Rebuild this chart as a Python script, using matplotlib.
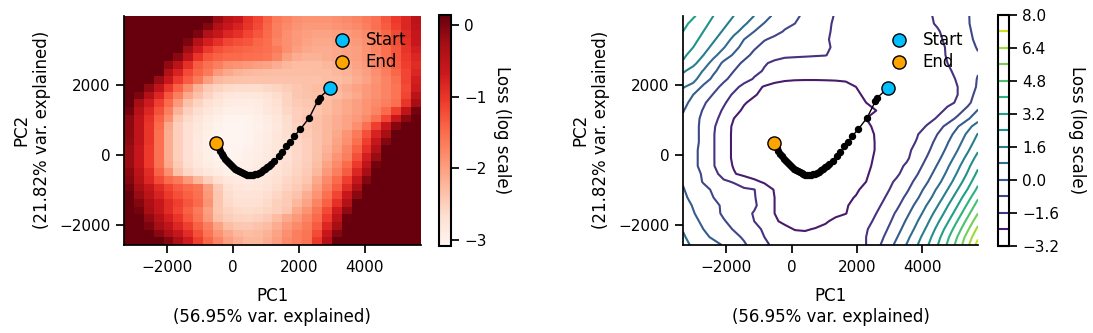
import numpy as np
import matplotlib
matplotlib.use('Agg')
import matplotlib.pyplot as plt

# loss landscape on the PC1/PC2 grid (log scale), rows listed from top (high PC2) to bottom
loss_rows = [
    [3.6, 3.3, 2.9, 2.4, 2.0, 1.6, 1.2, 0.8, 0.45, -0.2, -0.5, -0.65, -0.95, -1.15, -1.4, -1.65, -1.75, -1.85, -1.9, -1.9, -1.9, -1.85, -1.8, -1.75, -1.65, -1.55, -1.3, -1.05, -0.85, -0.5],
    [3.4, 3.0, 2.6, 2.2, 1.8, 1.3, 0.9, 0.5, -0.05, -0.4, -0.65, -0.8, -1.0, -1.2, -1.45, -1.7, -1.8, -1.9, -1.95, -1.95, -1.95, -1.9, -1.85, -1.8, -1.7, -1.55, -1.35, -1.1, -0.85, -0.55],
    [3.2, 2.8, 2.4, 2.0, 1.5, 1.0, 0.55, 0.0, -0.4, -0.6, -0.85, -0.95, -1.15, -1.3, -1.5, -1.7, -1.85, -1.95, -2.0, -2.05, -2.05, -2.0, -1.95, -1.9, -1.8, -1.65, -1.45, -1.2, -0.9, -0.6],
    [3.0, 2.6, 2.2, 1.7, 1.2, 0.6, 0.0, -0.45, -0.75, -0.95, -1.15, -1.25, -1.3, -1.45, -1.52, -1.75, -1.85, -1.95, -2.05, -2.1, -2.1, -2.05, -2.0, -1.95, -1.85, -1.7, -1.5, -1.25, -0.95, -0.65],
    [2.8, 2.4, 1.9, 1.4, 0.85, 0.25, -0.25, -0.7, -1.05, -1.25, -1.35, -1.4, -1.45, -1.5, -1.55, -1.65, -1.85, -2.0, -2.1, -2.15, -2.15, -2.1, -2.05, -2.0, -1.9, -1.75, -1.55, -1.3, -1.0, -0.75],
    [2.55, 2.1, 1.6, 1.0, 0.4, -0.1, -0.55, -1.0, -1.3, -1.42, -1.48, -1.5, -1.52, -1.55, -1.58, -1.75, -2.0, -2.15, -2.2, -2.2, -2.15, -2.1, -2.05, -2.0, -1.9, -1.8, -1.55, -1.3, -1.05, -0.85],
    [2.3, 1.8, 1.2, 0.5, -0.15, -0.5, -0.95, -1.35, -1.55, -1.7, -1.85, -1.9, -1.95, -2.0, -2.05, -2.15, -2.25, -2.3, -2.3, -2.3, -2.25, -2.2, -2.15, -2.05, -1.95, -1.75, -1.6, -1.35, -1.1, -0.9],
    [1.7, 1.3, 0.75, 0.15, -0.4, -0.8, -1.2, -1.45, -1.65, -1.95, -2.1, -2.2, -2.25, -2.28, -2.3, -2.32, -2.33, -2.33, -2.33, -2.3, -2.3, -2.25, -2.2, -2.1, -2.0, -1.85, -1.7, -1.45, -1.15, -0.85],
    [1.3, 1.0, 0.45, -0.2, -0.65, -1.05, -1.35, -1.65, -2.0, -2.25, -2.32, -2.35, -2.36, -2.36, -2.36, -2.36, -2.36, -2.36, -2.35, -2.35, -2.3, -2.3, -2.25, -2.15, -2.05, -1.9, -1.75, -1.55, -1.15, -0.75],
    [0.85, 0.6, -0.15, -0.55, -1.0, -1.4, -1.8, -2.2, -2.45, -2.55, -2.62, -2.65, -2.65, -2.65, -2.6, -2.55, -2.48, -2.4, -2.35, -2.3, -2.3, -2.25, -2.15, -2.05, -1.95, -1.85, -1.75, -1.6, -1.2, -0.7],
    [0.55, 0.0, -0.4, -0.85, -1.3, -1.7, -2.1, -2.35, -2.55, -2.72, -2.8, -2.85, -2.85, -2.8, -2.75, -2.65, -2.55, -2.42, -2.38, -2.35, -2.35, -2.3, -2.2, -2.1, -1.95, -1.85, -1.75, -1.6, -1.15, -0.5],
    [0.3, -0.3, -0.7, -1.1, -1.5, -1.95, -2.35, -2.55, -2.7, -2.8, -2.9, -2.95, -2.95, -2.9, -2.8, -2.7, -2.55, -2.45, -2.4, -2.35, -2.3, -2.2, -2.1, -2.0, -1.9, -1.8, -1.7, -1.55, -1.0, -0.3],
    [0.05, -0.45, -0.85, -1.25, -1.7, -2.2, -2.5, -2.68, -2.8, -2.9, -2.97, -3.0, -3.0, -2.95, -2.85, -2.75, -2.6, -2.5, -2.45, -2.4, -2.3, -2.2, -2.1, -2.0, -1.9, -1.75, -1.5, -1.1, -0.55, 0.05],
    [-0.12, -0.55, -0.95, -1.4, -1.85, -2.4, -2.62, -2.78, -2.9, -2.98, -3.05, -3.07, -3.05, -3.0, -2.9, -2.8, -2.65, -2.5, -2.4, -2.35, -2.25, -2.15, -2.05, -1.95, -1.8, -1.55, -1.15, -0.65, -0.1, 0.5],
    [-0.1, -0.55, -1.0, -1.5, -2.1, -2.5, -2.7, -2.84, -2.95, -3.03, -3.08, -3.09, -3.07, -3.02, -2.93, -2.82, -2.68, -2.55, -2.45, -2.35, -2.25, -2.15, -2.05, -1.85, -1.55, -1.1, -0.6, -0.05, 0.55, 1.2],
    [-0.12, -0.55, -1.0, -1.55, -2.15, -2.5, -2.72, -2.86, -2.97, -3.05, -3.09, -3.09, -3.06, -3.0, -2.9, -2.8, -2.68, -2.57, -2.47, -2.38, -2.25, -2.1, -1.9, -1.65, -1.25, -0.8, -0.3, 0.3, 0.95, 1.65],
    [-0.15, -0.55, -1.0, -1.55, -2.15, -2.5, -2.72, -2.88, -3.0, -3.07, -3.09, -3.08, -3.04, -2.98, -2.9, -2.8, -2.7, -2.6, -2.5, -2.38, -2.25, -2.05, -1.85, -1.55, -1.1, -0.6, -0.05, 0.55, 1.2, 1.95],
    [-0.2, -0.6, -1.05, -1.55, -2.15, -2.5, -2.72, -2.88, -3.0, -3.06, -3.08, -3.06, -3.02, -2.96, -2.88, -2.8, -2.7, -2.6, -2.5, -2.38, -2.2, -2.0, -1.75, -1.4, -0.95, -0.4, 0.15, 0.8, 1.5, 2.3],
    [-0.2, -0.6, -1.05, -1.55, -2.15, -2.5, -2.72, -2.86, -2.97, -3.03, -3.05, -3.03, -3.0, -2.94, -2.87, -2.78, -2.7, -2.6, -2.5, -2.35, -2.15, -1.9, -1.7, -1.25, -0.75, -0.2, 0.4, 1.1, 1.85, 2.7],
    [-0.2, -0.6, -1.05, -1.55, -2.1, -2.45, -2.68, -2.83, -2.93, -3.0, -3.02, -3.0, -2.97, -2.92, -2.85, -2.77, -2.68, -2.58, -2.48, -2.32, -2.05, -1.8, -1.5, -1.05, -0.55, 0.05, 0.7, 1.4, 2.2, 3.05],
    [-0.1, -0.5, -0.9, -1.4, -1.85, -2.35, -2.58, -2.72, -2.82, -2.92, -2.97, -2.96, -2.93, -2.88, -2.82, -2.74, -2.65, -2.55, -2.45, -2.25, -1.95, -1.7, -1.35, -0.85, -0.3, 0.3, 0.95, 1.7, 2.5, 3.4],
    [-0.05, -0.45, -0.85, -1.2, -1.5, -1.65, -1.95, -2.25, -2.5, -2.7, -2.82, -2.88, -2.88, -2.84, -2.78, -2.7, -2.6, -2.5, -2.4, -2.1, -1.8, -1.5, -1.1, -0.6, -0.05, 0.55, 1.25, 2.0, 2.85, 3.8],
    [0.05, -0.3, -0.6, -0.9, -1.15, -1.35, -1.5, -1.58, -2.0, -2.45, -2.7, -2.8, -2.82, -2.8, -2.74, -2.66, -2.56, -2.45, -2.3, -2.0, -1.7, -1.35, -0.9, -0.35, 0.25, 0.9, 1.6, 2.4, 3.25, 4.2],
    [0.15, -0.2, -0.5, -0.8, -1.05, -1.25, -1.4, -1.55, -1.95, -2.4, -2.65, -2.75, -2.77, -2.74, -2.68, -2.58, -2.47, -2.38, -2.15, -1.9, -1.55, -1.15, -0.65, -0.1, 0.5, 1.2, 1.95, 2.8, 3.7, 4.7],
    [0.3, -0.05, -0.35, -0.65, -0.9, -1.1, -1.3, -1.5, -1.9, -2.4, -2.62, -2.7, -2.72, -2.7, -2.62, -2.52, -2.45, -2.25, -2.05, -1.75, -1.4, -0.95, -0.4, 0.2, 0.85, 1.55, 2.35, 3.2, 4.15, 5.15],
    [0.45, 0.05, -0.3, -0.6, -0.9, -1.15, -1.4, -1.65, -2.0, -2.4, -2.55, -2.62, -2.65, -2.63, -2.57, -2.5, -2.42, -2.1, -1.9, -1.6, -1.2, -0.7, -0.15, 0.45, 1.15, 1.9, 2.7, 3.6, 4.6, 5.6],
    [0.6, 0.2, -0.15, -0.45, -0.75, -1.0, -1.3, -1.6, -1.95, -2.35, -2.48, -2.55, -2.57, -2.53, -2.45, -2.3, -2.1, -1.95, -1.75, -1.5, -1.05, -0.5, 0.1, 0.75, 1.45, 2.25, 3.1, 4.05, 5.05, 6.1],
    [0.75, 0.35, 0.0, -0.3, -0.55, -0.85, -1.1, -1.4, -1.7, -2.05, -2.3, -2.42, -2.43, -2.38, -2.3, -2.15, -1.95, -1.8, -1.65, -1.35, -0.85, -0.3, 0.35, 1.0, 1.75, 2.6, 3.5, 4.45, 5.5, 6.6],
    [0.9, 0.5, 0.15, -0.1, -0.35, -0.6, -0.9, -1.25, -1.6, -1.9, -2.1, -2.25, -2.3, -2.28, -2.2, -2.05, -1.85, -1.7, -1.6, -1.2, -0.65, -0.05, 0.6, 1.3, 2.05, 2.9, 3.85, 4.85, 5.95, 7.05],
    [1.0, 0.7, 0.45, 0.2, -0.05, -0.35, -0.7, -1.1, -1.45, -1.75, -2.0, -2.15, -2.25, -2.25, -2.15, -2.0, -1.8, -1.7, -1.6, -1.05, -0.45, 0.2, 0.85, 1.55, 2.3, 3.15, 4.1, 5.1, 6.25, 7.55],
]

# extent of the PCA grid
pc1_range = (-3320, 5700)
pc2_range = (-2570, 3970)

# optimisation trajectory projected on the two PCs
traj_pc1 = [2950, 2624, 2564, 2312, 2039, 1857, 1736, 1606, 1485, 1382, 1252,
            1150, 1090, 1030, 970, 909, 850, 788, 728, 667, 606, 545, 485, 424, 363,
            303, 242, 182, 121, 61, 0, -61, -122, -182, -243, -303, -355, -406, -445, -485, -536]
traj_pc2 = [1915, 1633, 1536, 1064, 731, 541, 381, 239, 85, -28, -171,
            -265, -312, -359, -402, -444, -480, -512, -537, -558, -570, -578, -576, -569, -551,
            -529, -502, -472, -437, -398, -352, -302, -242, -179, -110, -37, 38, 114, 185, 256, 353]

heat_lims = (-3.09, 0.14)
heat_ticks = [-3, -2, -1, 0]
contour_levels = [-3.2, -2.4, -1.6, -0.8, 0.0, 0.8, 1.6, 2.4, 3.2, 4.0, 4.8, 5.6, 6.4, 7.2, 8.0]

Z = np.array(loss_rows)[::-1]
xs = np.linspace(pc1_range[0], pc1_range[1], Z.shape[1])
ys = np.linspace(pc2_range[0], pc2_range[1], Z.shape[0])

plt.rcParams['font.family'] = 'DejaVu Sans'
plt.rcParams['xtick.labelsize'] = 11
plt.rcParams['ytick.labelsize'] = 11
plt.rcParams['axes.labelsize'] = 12
plt.rcParams['legend.fontsize'] = 12
plt.rcParams['axes.linewidth'] = 1.25
plt.rcParams['xtick.major.size'] = 5.5
plt.rcParams['ytick.major.size'] = 5.5
plt.rcParams['xtick.major.width'] = 1.25
plt.rcParams['ytick.major.width'] = 1.25
plt.rcParams['xtick.major.pad'] = 5
plt.rcParams['ytick.major.pad'] = 4

fig = plt.figure(figsize=(10.93, 3.33), dpi=100)
ax1 = fig.add_axes([0.1134, 0.2643, 0.2717, 0.6886])
cax1 = fig.add_axes([0.4019, 0.2613, 0.011, 0.6937])
ax2 = fig.add_axes([0.6249, 0.2643, 0.2699, 0.6886])
cax2 = fig.add_axes([0.9134, 0.2613, 0.0098, 0.6937])

extent = [pc1_range[0], pc1_range[1], pc2_range[0], pc2_range[1]]
im = ax1.imshow(Z, origin='lower', extent=extent, aspect='auto', cmap='Reds',
                vmin=heat_lims[0], vmax=heat_lims[1], interpolation='nearest')
cb1 = fig.colorbar(im, cax=cax1)
cb1.set_ticks(heat_ticks)
cb1.set_label('Loss (log scale)', rotation=270, labelpad=17, fontsize=12)
cb1.outline.set_linewidth(1.5)

cs = ax2.contour(xs, ys, Z, levels=contour_levels, cmap='viridis', linewidths=1.5)
cb2 = fig.colorbar(cs, cax=cax2)
cb2.set_ticks(contour_levels[::2])
cb2.set_label('Loss (log scale)', rotation=270, labelpad=19, fontsize=12)
cb2.outline.set_linewidth(1.5)

for ax in (ax1, ax2):
    ax.plot(traj_pc1, traj_pc2, '-o', color='k', lw=1, ms=4.3, zorder=3)
    ax.scatter(traj_pc1[0], traj_pc2[0], s=90, c='#00bfff', edgecolors='k', zorder=5, label='Start')
    ax.scatter(traj_pc1[-1], traj_pc2[-1], s=90, c='#ffa500', edgecolors='k', zorder=5, label='End')
    ax.set_xlim(pc1_range)
    ax.set_ylim(pc2_range)
    ax.set_xticks([-2000, 0, 2000, 4000])
    ax.set_yticks([-2000, 0, 2000])
    ax.set_xlabel('PC1\n(56.95% var. explained)', labelpad=9)
    ax.set_ylabel('PC2\n(21.82% var. explained)', labelpad=6)
    ax.spines['top'].set_visible(False)
    ax.spines['right'].set_visible(False)
    ax.legend(loc='upper right', frameon=False, handletextpad=0.4, borderaxespad=0.5,
              labelspacing=0.25)

fig.savefig('out.png', dpi=100)
